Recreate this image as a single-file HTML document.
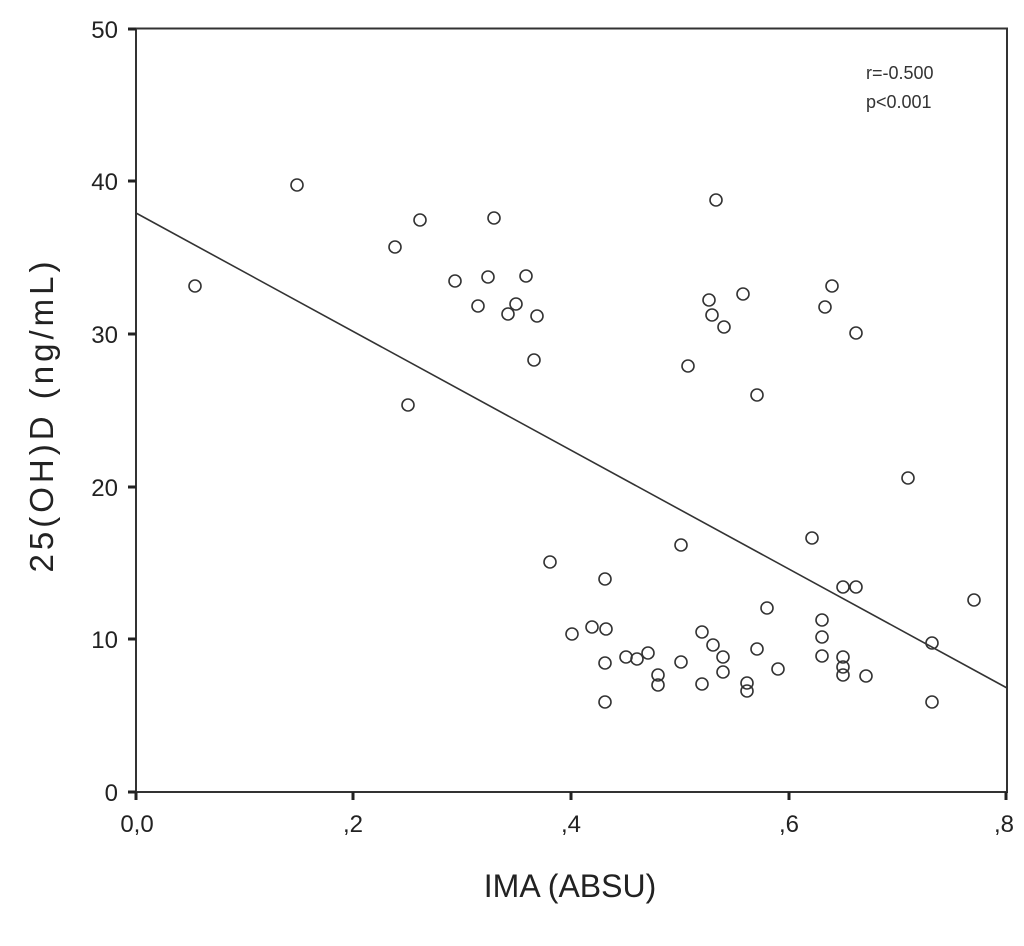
<!DOCTYPE html>
<html><head><style>body{margin:0;background:#fff}</style></head><body>
<svg width="1024" height="941" xmlns="http://www.w3.org/2000/svg" font-family="Liberation Sans, Arial, sans-serif">
<rect width="1024" height="941" fill="#fff"/>
<rect x="136" y="28.5" width="871" height="763.5" fill="none" stroke="#333" stroke-width="2"/>
<g stroke="#222" stroke-width="3">
<line x1="128" y1="29" x2="136" y2="29"/><line x1="128" y1="181" x2="136" y2="181"/><line x1="128" y1="334" x2="136" y2="334"/><line x1="128" y1="487" x2="136" y2="487"/><line x1="128" y1="639" x2="136" y2="639"/><line x1="128" y1="792" x2="136" y2="792"/>
<line x1="136" y1="792" x2="136" y2="800"/><line x1="353" y1="792" x2="353" y2="800"/><line x1="571" y1="792" x2="571" y2="800"/><line x1="789" y1="792" x2="789" y2="800"/><line x1="1006" y1="792" x2="1006" y2="800"/>
</g>
<g font-size="24" fill="#222" text-anchor="end">
<text x="118" y="38">50</text><text x="118" y="190">40</text><text x="118" y="343">30</text><text x="118" y="496">20</text><text x="118" y="648">10</text><text x="118" y="801">0</text>
</g>
<g font-size="24" fill="#222" text-anchor="middle">
<text x="137" y="832">0,0</text><text x="353" y="832">,2</text><text x="571" y="832">,4</text><text x="789" y="832">,6</text><text x="1004" y="832">,8</text>
</g>
<text x="570" y="897" font-size="32" text-anchor="middle" fill="#222">IMA (ABSU)</text>
<text transform="translate(53,415) rotate(-90)" font-size="33" letter-spacing="4" text-anchor="middle" fill="#222">25(OH)D (ng/mL)</text>
<text x="866" y="79" font-size="18" fill="#333">r=-0.500</text>
<text x="866" y="108" font-size="18" fill="#333">p&lt;0.001</text>
<line x1="136" y1="213" x2="1007" y2="688" stroke="#333" stroke-width="1.6"/>
<g fill="none" stroke="#333" stroke-width="1.6">
<circle cx="195" cy="286" r="6"/><circle cx="297" cy="185" r="6"/><circle cx="420" cy="220" r="6"/><circle cx="494" cy="218" r="6"/><circle cx="395" cy="247" r="6"/><circle cx="455" cy="281" r="6"/><circle cx="488" cy="277" r="6"/><circle cx="526" cy="276" r="6"/><circle cx="478" cy="306" r="6"/><circle cx="516" cy="304" r="6"/><circle cx="508" cy="314" r="6"/><circle cx="537" cy="316" r="6"/><circle cx="534" cy="360" r="6"/><circle cx="408" cy="405" r="6"/><circle cx="550" cy="562" r="6"/>
<circle cx="716" cy="200" r="6"/><circle cx="709" cy="300" r="6"/><circle cx="712" cy="315" r="6"/><circle cx="724" cy="327" r="6"/><circle cx="743" cy="294" r="6"/><circle cx="688" cy="366" r="6"/><circle cx="757" cy="395" r="6"/><circle cx="832" cy="286" r="6"/><circle cx="825" cy="307" r="6"/><circle cx="856" cy="333" r="6"/><circle cx="908" cy="478" r="6"/>
<circle cx="681" cy="545" r="6"/><circle cx="605" cy="579" r="6"/><circle cx="572" cy="634" r="6"/><circle cx="592" cy="627" r="6"/><circle cx="606" cy="629" r="6"/><circle cx="605" cy="663" r="6"/><circle cx="626" cy="657" r="6"/><circle cx="637" cy="659" r="6"/><circle cx="648" cy="653" r="6"/><circle cx="681" cy="662" r="6"/><circle cx="658" cy="675" r="6"/><circle cx="658" cy="685" r="6"/><circle cx="605" cy="702" r="6"/><circle cx="702" cy="632" r="6"/><circle cx="713" cy="645" r="6"/><circle cx="723" cy="657" r="6"/><circle cx="723" cy="672" r="6"/><circle cx="702" cy="684" r="6"/><circle cx="757" cy="649" r="6"/><circle cx="747" cy="683" r="6"/><circle cx="747" cy="691" r="6"/><circle cx="778" cy="669" r="6"/><circle cx="767" cy="608" r="6"/>
<circle cx="812" cy="538" r="6"/><circle cx="843" cy="587" r="6"/><circle cx="856" cy="587" r="6"/><circle cx="822" cy="620" r="6"/><circle cx="822" cy="637" r="6"/><circle cx="822" cy="656" r="6"/><circle cx="843" cy="657" r="6"/><circle cx="843" cy="667" r="6"/><circle cx="843" cy="675" r="6"/><circle cx="866" cy="676" r="6"/><circle cx="974" cy="600" r="6"/><circle cx="932" cy="643" r="6"/><circle cx="932" cy="702" r="6"/>
</g>
</svg>
</body></html>
